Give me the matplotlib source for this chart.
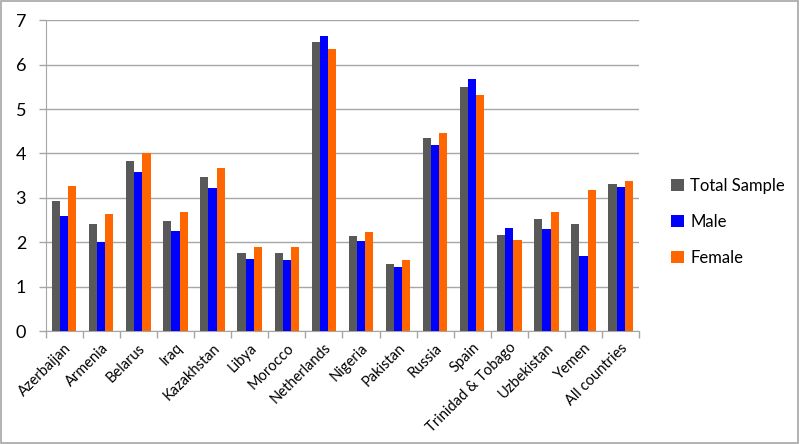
import matplotlib.pyplot as plt
from matplotlib.patches import Rectangle
import numpy as np

countries = ['Azerbaijan', 'Armenia', 'Belarus', 'Iraq', 'Kazakhstan', 'Libya', 'Morocco',
             'Netherlands', 'Nigeria', 'Pakistan', 'Russia', 'Spain', 'Trinidad & Tobago',
             'Uzbekistan', 'Yemen', 'All countries']
total_sample = [2.93, 2.42, 3.83, 2.47, 3.47, 1.75, 1.75, 6.50, 2.13, 1.52, 4.34, 5.50, 2.17, 2.53, 2.42, 3.32]
male = [2.59, 2.00, 3.59, 2.26, 3.21, 1.63, 1.61, 6.65, 2.03, 1.44, 4.20, 5.68, 2.32, 2.30, 1.68, 3.24]
female = [3.26, 2.64, 4.02, 2.68, 3.66, 1.89, 1.90, 6.35, 2.24, 1.60, 4.45, 5.32, 2.05, 2.69, 3.17, 3.38]

series = [('Total Sample', total_sample, '#595959'),
          ('Male', male, '#0000ff'),
          ('Female', female, '#ff6600')]

plt.rcParams['font.family'] = ['Lato', 'DejaVu Sans']

fig = plt.figure(figsize=(8, 4.44), dpi=100)
ax = fig.add_axes([0.057, 0.2545, 0.742, 0.70])

x = np.arange(len(countries))
width = 0.22
for i, (name, vals, color) in enumerate(series):
    ax.bar(x + (i - 1) * width, vals, width, color=color, label=name, zorder=3)

ax.set_xlim(-0.5, len(countries) - 0.5)
ax.set_ylim(0, 7)
ax.set_yticks(range(8))
ax.grid(axis='y', color='#a6a6a6', linewidth=1, zorder=0)
ax.tick_params(axis='y', labelsize=13, length=5, color='#a6a6a6', width=1, pad=9)

ax.set_xticks(x)
ax.set_xticklabels(countries, rotation=45, ha='right', rotation_mode='anchor', fontsize=10.5)
ax.tick_params(axis='x', which='major', length=0, pad=7)
ax.set_xticks(np.arange(-0.5, len(countries)), minor=True)
ax.tick_params(axis='x', which='minor', length=5, color='#a6a6a6', width=1)

for side in ['top', 'right']:
    ax.spines[side].set_visible(False)
for side in ['left', 'bottom']:
    ax.spines[side].set_color('#a6a6a6')

fig.legend(loc='center left', bbox_to_anchor=(0.82, 0.5), frameon=False, fontsize=12,
           handlelength=0.75, handleheight=0.75, handletextpad=0.4, labelspacing=1.2)

fig.patches.append(Rectangle((0.001, 0.002), 0.996, 0.995, transform=fig.transFigure,
                             fill=False, edgecolor='#a6a6a6', linewidth=1.2))

fig.savefig('out.png', dpi=100)
